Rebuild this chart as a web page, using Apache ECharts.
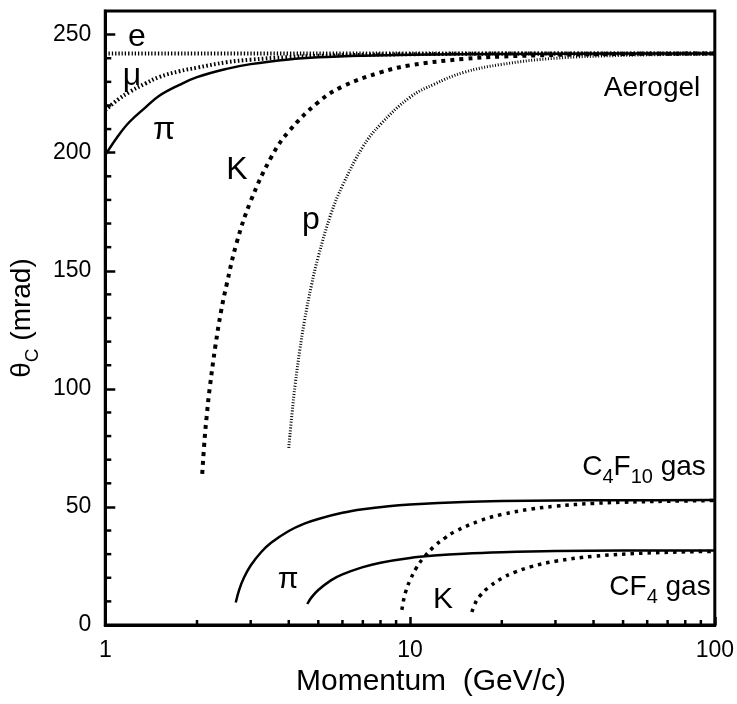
<!DOCTYPE html>
<html>
<head>
<meta charset="utf-8">
<script src="https://cdn.jsdelivr.net/npm/echarts@6/dist/echarts.min.js"></script>
<style>
  html, body { margin: 0; padding: 0; background: #fff; }
  #chart { width: 737px; height: 704px; }
</style>
</head>
<body>
<div id="chart"></div>
<script>
const FONT = '"Liberation Sans", Arial, Helvetica, sans-serif';

// Cherenkov angle theta_C (mrad) against momentum p (GeV/c), pairs [p, theta]
// Aerogel radiator
const electronAerogel = [[1, 242], [100, 242]];
const muonAerogel = [[1, 218], [1.1, 222.5], [1.2, 225.7], [1.35, 229.2], [1.5, 232], [1.75, 234.5],
  [2, 236], [2.5, 238.3], [3, 239.4], [4, 240.5], [5, 241], [10, 241.7], [30, 242], [100, 242]];
const pionAerogel = [[1, 199], [1.1, 207], [1.2, 213], [1.35, 219], [1.5, 224], [1.75, 228.7],
  [2, 232], [2.5, 235.5], [3, 237.5], [4, 239.5], [5, 240.4], [7, 241.1], [10, 241.5],
  [20, 241.8], [50, 242], [100, 242]];
const kaonAerogel = [[2.08, 64], [2.12, 79.4], [2.15, 88], [2.2, 100], [2.3, 118.5], [2.4, 133],
  [2.5, 144], [2.7, 162], [3, 179.5], [3.5, 198], [4, 209], [5, 221.4], [6, 228], [8, 234],
  [10, 237], [15, 239.7], [20, 240.7], [30, 241.4], [50, 241.8], [100, 242]];
const protonAerogel = [[4.0, 75], [4.1, 89.7], [4.2, 102], [4.35, 116.6], [4.5, 128.5], [4.75, 144],
  [5, 156], [5.5, 174], [6, 186], [7, 202.5], [8, 212], [10, 223.5], [12, 229], [15, 234],
  [20, 237.4], [30, 240], [50, 241.2], [100, 241.8]];

// C4F10 gas radiator
const pionC4F10 = [[2.68, 9.5], [2.75, 14.9], [2.85, 20], [3, 25.2], [3.25, 30.9], [3.5, 34.8],
  [4, 39.8], [4.5, 42.9], [5, 44.9], [6, 47.5], [7, 49], [8.5, 50.3], [10, 51], [15, 52.1],
  [20, 52.5], [30, 52.7], [50, 52.85], [100, 52.9]];
const kaonC4F10 = [[9.4, 6.4], [9.55, 11.3], [9.7, 14.5], [10, 19], [10.5, 24.3], [11, 28],
  [12, 33.3], [13, 36.8], [14, 39.5], [17, 44.2], [20, 46.8], [25, 49.1], [30, 50.3],
  [40, 51.5], [50, 52], [70, 52.4], [100, 52.7]];

// CF4 gas radiator
const pionCF4 = [[4.6, 8.9], [4.75, 11.7], [5, 14.8], [5.5, 18.9], [6, 21.4], [7, 24.5], [8, 26.4],
  [10, 28.4], [12, 29.4], [15, 30.2], [20, 30.8], [30, 31.3], [50, 31.5], [100, 31.6]];
const kaonCF4 = [[15.95, 5.5], [16.5, 10.2], [17, 12.5], [18, 15.7], [20, 19.8], [22, 22.3],
  [25, 24.7], [30, 27], [40, 29.1], [60, 30.5], [100, 31.2]];

// Axis ranges and tick positions
const xRange = [1, 100];
const yRange = [0, 260];
const yMajorStep = 50;
const xMinorTicks = [2, 3, 4, 5, 6, 7, 8, 9, 20, 30, 40, 50, 60, 70, 80, 90];
const yMinorTicks = [10, 20, 30, 40, 60, 70, 80, 90, 110, 120, 130, 140, 160, 170, 180, 190,
  210, 220, 230, 240];

const chart = echarts.init(document.getElementById('chart'), null, { renderer: 'canvas' });

function curve(name, data, width, dash) {
  return {
    name: name,
    type: 'line',
    data: data,
    showSymbol: false,
    symbol: 'none',
    smooth: 0.4,
    clip: true,
    lineStyle: {
      color: '#000',
      width: width,
      type: dash || 'solid',
      cap: 'butt'
    },
    z: 3
  };
}

// Short inward minor ticks drawn through the axis scales
function minorTicks(name, values, dir) {
  return {
    name: name,
    type: 'custom',
    data: values.map(v => dir === 'x' ? [v, yRange[0]] : [xRange[0], v]),
    silent: true,
    clip: false,
    z: 5,
    renderItem: function (params, api) {
      const p = api.coord([api.value(0), api.value(1)]);
      const shape = dir === 'x'
        ? { x1: p[0], y1: p[1], x2: p[0], y2: p[1] - 5 }
        : { x1: p[0], y1: p[1], x2: p[0] + 6, y2: p[1] };
      return { type: 'line', shape: shape, style: { stroke: '#000', lineWidth: 2.5 } };
    }
  };
}

function label(text, x, y, size) {
  return {
    type: 'text', x: x, y: y, z: 10,
    style: {
      text: text, fill: '#000', align: 'center', verticalAlign: 'middle',
      fontSize: size, fontFamily: FONT
    }
  };
}

function richLabel(text, x, y, rich) {
  return {
    type: 'text', x: x, y: y, z: 10,
    style: {
      text: text, fill: '#000', align: 'center', verticalAlign: 'middle',
      fontFamily: FONT, rich: rich
    }
  };
}

// Main text sits at the top of the line box, subscripts at its bottom
const subRich = {
  a: { fontSize: 28, fontFamily: FONT, lineHeight: 34, verticalAlign: 'top', color: '#000' },
  s: { fontSize: 20, fontFamily: FONT, lineHeight: 20, verticalAlign: 'bottom', color: '#000' }
};

const option = {
  animation: false,
  backgroundColor: '#fff',
  grid: {
    left: 105, right: 18, top: 11, bottom: 79,
    show: true, borderColor: '#000', borderWidth: 3, backgroundColor: 'transparent'
  },
  xAxis: {
    type: 'log',
    logBase: 10,
    min: xRange[0],
    max: xRange[1],
    name: 'Momentum  (GeV/c)',
    nameLocation: 'middle',
    nameGap: 34,
    nameTextStyle: { fontSize: 30, fontFamily: FONT, color: '#000', padding: [0, 0, 0, 42] },
    axisLine: { show: true, lineStyle: { color: '#000', width: 3 } },
    axisTick: { show: true, inside: true, length: 8, lineStyle: { color: '#000', width: 2.5 } },
    axisLabel: { fontSize: 23, fontFamily: FONT, color: '#000', margin: 14 },
    splitLine: { show: false },
    minorTick: { show: false }
  },
  yAxis: {
    type: 'value',
    min: yRange[0],
    max: yRange[1],
    interval: yMajorStep,
    name: '{t|θ}{c|C}{t| (mrad)}',
    nameLocation: 'middle',
    nameGap: 53,
    nameRotate: 90,
    nameTextStyle: {
      fontFamily: FONT, color: '#000',
      rich: {
        t: { fontSize: 28, fontFamily: FONT, lineHeight: 34, verticalAlign: 'top', color: '#000' },
        c: { fontSize: 19, fontFamily: FONT, lineHeight: 19, verticalAlign: 'bottom', color: '#000' }
      }
    },
    axisLine: { show: true, lineStyle: { color: '#000', width: 3 } },
    axisTick: { show: true, inside: true, length: 10, lineStyle: { color: '#000', width: 2.5 } },
    axisLabel: { fontSize: 23, fontFamily: FONT, color: '#000', margin: 14, showMaxLabel: false },
    splitLine: { show: false }
  },
  series: [
    curve('e', electronAerogel, 4, [1.3, 2]),
    curve('μ', muonAerogel, 4, [1.6, 2.4]),
    curve('π', pionAerogel, 2.5),
    curve('K', kaonAerogel, 4, [4, 5]),
    curve('p', protonAerogel, 3, [1, 1.8]),
    curve('π C4F10', pionC4F10, 2.5),
    curve('K C4F10', kaonC4F10, 3.5, [3.5, 5]),
    curve('π CF4', pionCF4, 2.5),
    curve('K CF4', kaonCF4, 3.5, [3.5, 5]),
    minorTicks('x minor ticks', xMinorTicks, 'x'),
    minorTicks('y minor ticks', yMinorTicks, 'y')
  ],
  graphic: [
    label('e', 137, 37, 32),
    label('μ', 132, 76, 32),
    label('π', 164, 130, 32),
    label('K', 237, 170, 32),
    label('p', 311, 220, 32),
    label('Aerogel', 652, 88, 28),
    label('π', 288, 580, 30),
    label('K', 443, 600, 30),
    richLabel('{a|C}{s|4}{a|F}{s|10}{a| gas}', 644, 470, subRich),
    richLabel('{a|CF}{s|4}{a| gas}', 660, 590, subRich)
  ]
};

chart.setOption(option);
</script>
</body>
</html>
